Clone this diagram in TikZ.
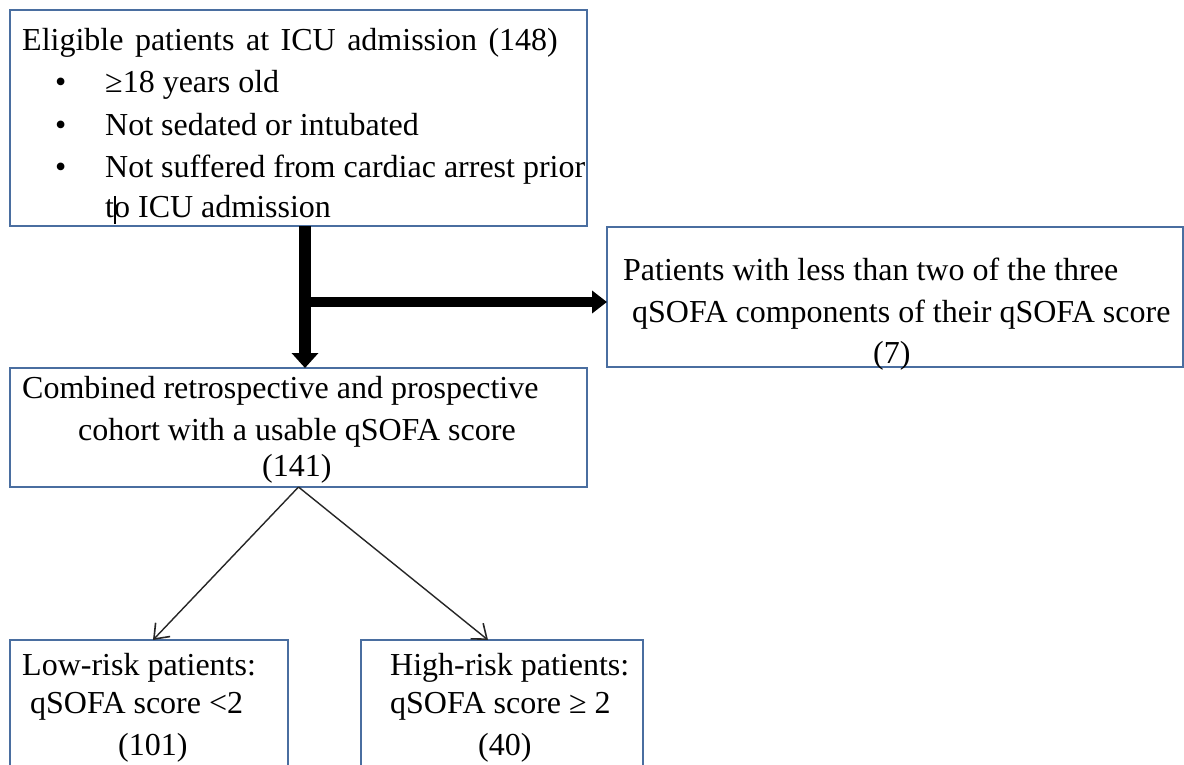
\documentclass[tikz,border=0pt]{standalone}
\usepackage{fontspec}
\setmainfont{Liberation Serif}
\usetikzlibrary{arrows.meta}
\definecolor{boxblue}{RGB}{74,110,160}
\newcommand{\wsp}{\ \hspace{3.5pt}}
\begin{document}
\begin{tikzpicture}[x=1pt,y=-1pt,
  box/.style={draw=boxblue,line width=1.5pt,inner sep=0pt,outer sep=0pt,anchor=north west},
  txt/.style={anchor=base west,inner sep=0pt,font=\fontsize{32}{38}\selectfont},
  bigarrowv/.style={line width=12pt,-{Triangle[width=26pt,length=15pt]}},
  bigarrowh/.style={line width=10pt,-{Triangle[width=22pt,length=15pt]}},
  thinarrow/.style={line width=1.4pt,draw=black!85,-{Straight Barb[length=13pt,width=20pt,line width=1.6pt]}}]
\useasboundingbox (0,0) rectangle (1184,765);
\clip (0,0) rectangle (1184,765);
\fill[white] (0,0) rectangle (1184,765);
% boxes
\node[box,minimum width=577pt,minimum height=216pt] (top) at (10,10) {};
\node[box,minimum width=576pt,minimum height=140pt] (side) at (607,227) {};
\node[box,minimum width=577pt,minimum height=119pt] (mid) at (10,368) {};
\node[box,minimum width=278pt,minimum height=140pt] (bl) at (10,640) {};
\node[box,minimum width=282pt,minimum height=140pt] (br) at (361,640) {};
% texts
\node[txt] (t1) at (22,51) {Eligible\wsp patients\wsp at\wsp ICU\wsp admission\wsp (148)};
\node[txt] (b1) at (55,93) {\textbullet};
\node[txt] (b2) at (55,136) {\textbullet};
\node[txt] (b3) at (55,178) {\textbullet};
\node[txt] (t2) at (105,93) {≥18 years old};
\node[txt] (t3) at (105,136) {Not sedated or intubated};
\node[txt] (t4) at (105,178) {Not suffered from cardiac arrest prior};
\node[txt] (t5) at (105,218) {to ICU admission};
\draw[line width=1.5pt] (115,196) -- (115,224);
\node[txt] (s1) at (623,280) {Patients with less than two of the three};
\node[txt] (s2) at (632,322) {qSOFA components of their qSOFA score};
\node[txt] (s3) at (873,363) {(7)};
\node[txt] (m1) at (22,398) {Combined retrospective and prospective};
\node[txt] (m2) at (78,440) {cohort with a usable qSOFA score};
\node[txt] (m3) at (262,476) {(141)};
\node[txt] (l1) at (22,675) {Low-risk patients:};
\node[txt] (l2) at (30,713) {qSOFA score <2};
\node[txt] (l3) at (118,755) {(101)};
\node[txt] (h1) at (390,675) {High-risk patients:};
\node[txt] (h2) at (390,713) {qSOFA score ≥ 2};
\node[txt] (h3) at (478,755) {(40)};
% connectors
\coordinate (vx) at (305,302);
\coordinate (rx) at (488,640);
\coordinate (lx) at (153,640);
\draw[bigarrowv] (vx |- top.south) -- (vx |- mid.north);
\draw[bigarrowh] (vx) -- (vx -| side.west);
\draw[thinarrow] (mid.south) -- (lx |- bl.north);
\draw[thinarrow] (mid.south) -- (rx |- br.north);
\end{tikzpicture}
\end{document}
